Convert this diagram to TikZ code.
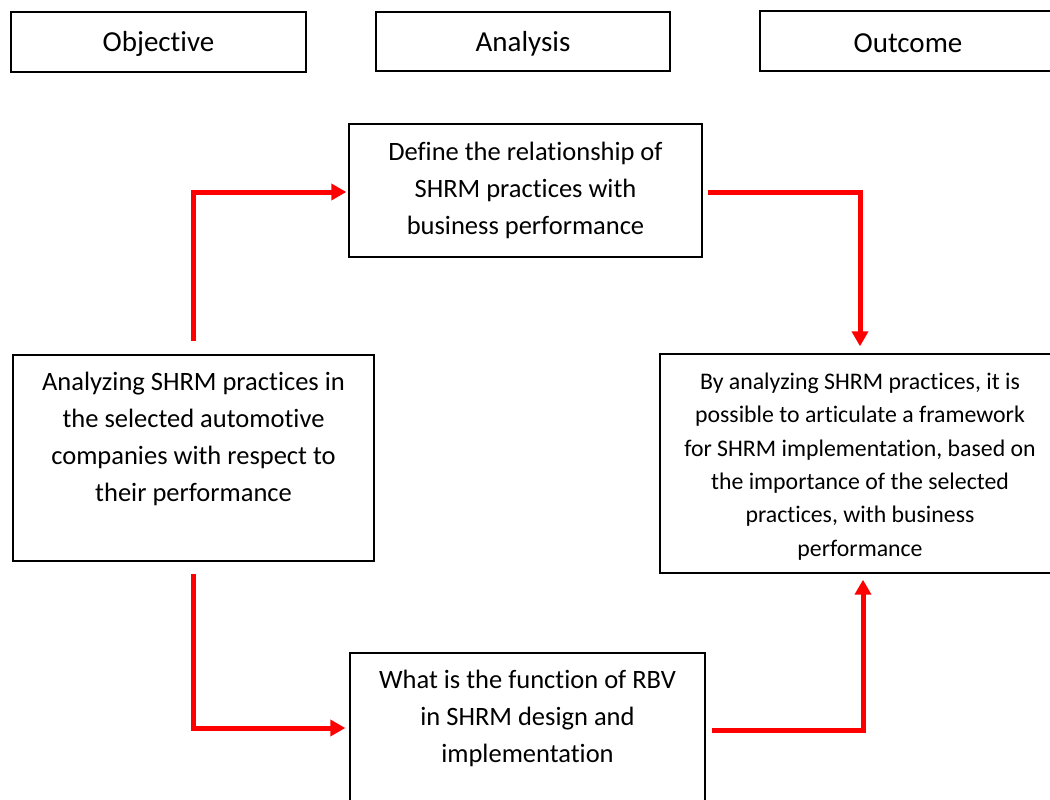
\documentclass[tikz,border=0pt]{standalone}
\usepackage{fontspec}
\setmainfont{Carlito}[Ligatures={NoCommon,NoContextual}]
\usetikzlibrary{arrows.meta}
\begin{document}
\begin{tikzpicture}[x=1pt,y=1pt,
  box/.style={draw=black, line width=1.4pt, inner sep=0pt},
  txt/.style={align=center, inner sep=0pt},
  ttl/.style={font=\fontsize{29}{34}\selectfont},
  body/.style={font=\fontsize{26.5}{37}\selectfont},
  small/.style={font=\fontsize{23.8}{33.4}\selectfont},
  arr/.style={draw=red, line width=5pt, line join=miter, line cap=butt,
    -{Triangle[length=15pt,width=16pt]}}]
\useasboundingbox (0,0) rectangle (1050,-800);
\clip (0,0) rectangle (1050,-800);
% header boxes
\node[box, minimum width=295, minimum height=60] (obj) at (158.5,-42) {};
\node[txt, ttl] (objt) at (158.5,-44) {Objective};
\node[box, minimum width=294, minimum height=59] (ana) at (523,-41.5) {};
\node[txt, ttl] (anat) at (523,-43.5) {Analysis};
\node[box, minimum width=296, minimum height=60] (out) at (908,-41) {};
\node[txt, ttl] (outt) at (908,-43) {Outcome};
% main boxes
\node[box, minimum width=353, minimum height=133] (def) at (525.5,-190.5) {};
\node[txt, body] (deft) at (525.5,-190.5) {Define the relationship of\\SHRM practices with\\business performance};
\node[box, minimum width=361, minimum height=206] (anl) at (193.5,-458) {};
\node[txt, body] (anlt) at (193.5,-439) {Analyzing SHRM practices in\\the selected automotive\\companies with respect to\\their performance};
\node[box, minimum width=400, minimum height=219] (res) at (860,-463.5) {};
\node[txt, small] (rest) at (860,-466.5) {By analyzing SHRM practices, it is\\possible to articulate a framework\\for SHRM implementation, based on\\the importance of the selected\\practices, with business\\performance};
\node[box, minimum width=355, minimum height=206] (wht) at (527.5,-756) {};
\node[txt, body] (whtt) at (527.5,-718) {What is the function of RBV\\in SHRM design and\\implementation};
% connectors
\draw[arr] ([yshift=13pt]anl.north) |- ([xshift=-2pt,yshift=-1.5pt]def.west);
\draw[arr] ([xshift=5pt,yshift=-1.5pt]def.east) -| ([yshift=7pt]res.north);
\draw[arr] ([yshift=-12pt]anl.south) |- ([xshift=-4pt,yshift=28pt]wht.west);
\draw[arr] ([xshift=6pt,yshift=26pt]wht.east) -| ([xshift=3pt,yshift=-6pt]res.south);
\end{tikzpicture}
\end{document}
